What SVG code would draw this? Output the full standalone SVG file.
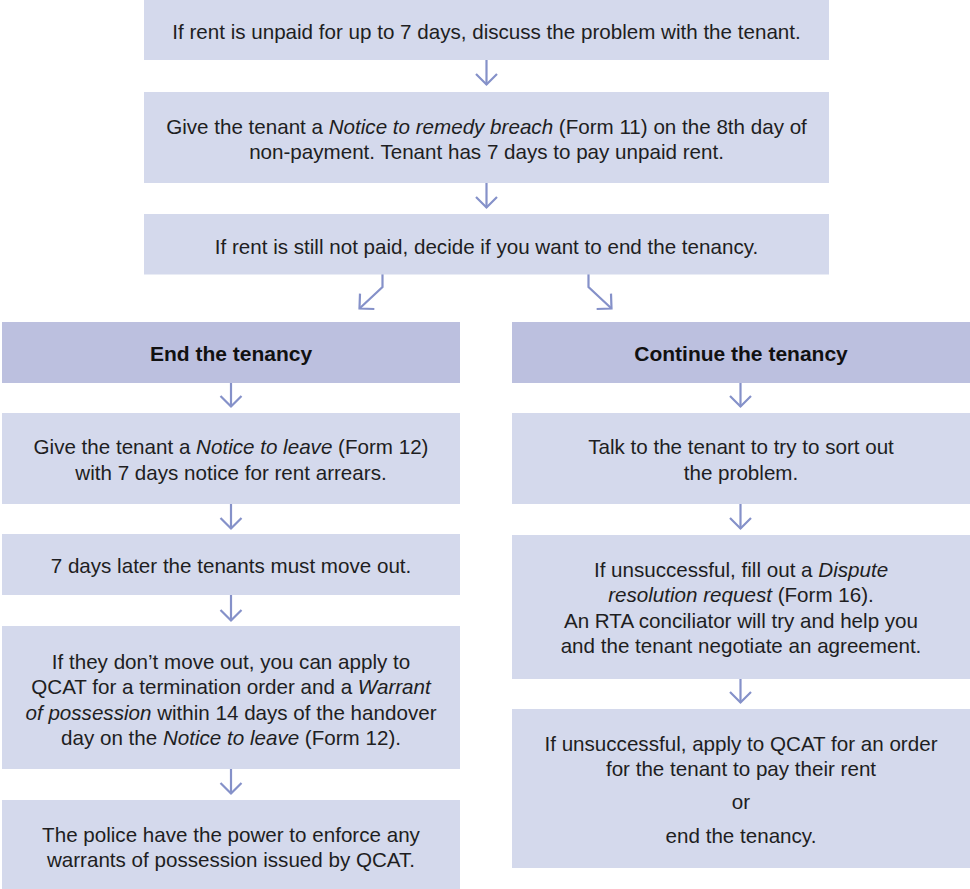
<svg xmlns="http://www.w3.org/2000/svg" width="970" height="889" viewBox="0 0 970 889">
  <defs>
    <style>
      .box { fill: #d4d9ec; }
      .head { fill: #bcc0df; }
      .t { font-family: "Liberation Sans", Arial, Helvetica, sans-serif; font-size: 20.6px; fill: #1e1e22; text-anchor: middle; }
      .b { font-family: "Liberation Sans", Arial, Helvetica, sans-serif; font-size: 21px; font-weight: bold; fill: #111111; text-anchor: middle; }
      .i { font-style: italic; }
      .arrow { fill: none; stroke: #8591c9; stroke-width: 2.2; marker-end: url(#chev); }
    </style>
    <marker id="chev" markerUnits="userSpaceOnUse" viewBox="-14 -14 16 28" markerWidth="16" markerHeight="28" refX="0" refY="0" orient="auto">
      <path d="M-10.5,-10.5 L0,0 L-10.5,10.5" fill="none" stroke="#8591c9" stroke-width="2.2"/>
    </marker>
  </defs>
  <rect width="970" height="889" fill="#ffffff"/>

  <g id="connectors">
    <path class="arrow" d="M486.5,60 V84.5"/>
    <path class="arrow" d="M486.5,183 V207.5"/>
    <path class="arrow" d="M382.5,274 V287 L359.5,308.5"/>
    <path class="arrow" d="M588.5,274 V287 L611.5,308.5"/>
    <path class="arrow" d="M231,383 V406.5"/>
    <path class="arrow" d="M231,504 V528.5"/>
    <path class="arrow" d="M231,595 V620.5"/>
    <path class="arrow" d="M231,769 V793.5"/>
    <path class="arrow" d="M740.5,383 V406.5"/>
    <path class="arrow" d="M740.5,504 V528.5"/>
    <path class="arrow" d="M740.5,679 V702.5"/>
  </g>

  <g id="step1">
    <rect class="box" x="144" y="0" width="685" height="60"/>
    <text class="t" x="486.5" y="39">If rent is unpaid for up to 7 days, discuss the problem with the tenant.</text>
  </g>

  <g id="step2">
    <rect class="box" x="144" y="92" width="685" height="91"/>
    <text class="t" x="486.5" y="134">Give the tenant a <tspan class="i">Notice to remedy breach</tspan> (Form 11) on the 8th day of</text>
    <text class="t" x="486.5" y="158.5">non-payment. Tenant has 7 days to pay unpaid rent.</text>
  </g>

  <g id="step3">
    <rect class="box" x="144" y="214" width="685" height="60.5"/>
    <text class="t" x="486.5" y="254">If rent is still not paid, decide if you want to end the tenancy.</text>
  </g>

  <g id="end-header">
    <rect class="head" x="2" y="322" width="458" height="61"/>
    <text class="b" x="231" y="361">End the tenancy</text>
  </g>

  <g id="end-notice">
    <rect class="box" x="2" y="413" width="458" height="91"/>
    <text class="t" x="231" y="453.5">Give the tenant a <tspan class="i">Notice to leave</tspan> (Form 12)</text>
    <text class="t" x="231" y="480">with 7 days notice for rent arrears.</text>
  </g>

  <g id="end-moveout">
    <rect class="box" x="2" y="534" width="458" height="61"/>
    <text class="t" x="231" y="573">7 days later the tenants must move out.</text>
  </g>

  <g id="end-qcat">
    <rect class="box" x="2" y="626" width="458" height="143"/>
    <text class="t" x="231" y="669">If they don’t move out, you can apply to</text>
    <text class="t" x="231" y="694">QCAT for a termination order and a <tspan class="i">Warrant</tspan></text>
    <text class="t" x="231" y="719.5"><tspan class="i">of possession</tspan> within 14 days of the handover</text>
    <text class="t" x="231" y="744.5">day on the <tspan class="i">Notice to leave</tspan> (Form 12).</text>
  </g>

  <g id="end-police">
    <rect class="box" x="2" y="800" width="458" height="89"/>
    <text class="t" x="231" y="841.5">The police have the power to enforce any</text>
    <text class="t" x="231" y="866.5">warrants of possession issued by QCAT.</text>
  </g>

  <g id="continue-header">
    <rect class="head" x="512" y="322" width="458" height="61"/>
    <text class="b" x="741" y="361">Continue the tenancy</text>
  </g>

  <g id="continue-talk">
    <rect class="box" x="512" y="413" width="458" height="91"/>
    <text class="t" x="741" y="453.5">Talk to the tenant to try to sort out</text>
    <text class="t" x="741" y="480">the problem.</text>
  </g>

  <g id="continue-dispute">
    <rect class="box" x="512" y="535" width="458" height="144"/>
    <text class="t" x="741" y="577">If unsuccessful, fill out a <tspan class="i">Dispute</tspan></text>
    <text class="t" x="741" y="601.5"><tspan class="i">resolution request</tspan> (Form 16).</text>
    <text class="t" x="741" y="627.5">An RTA conciliator will try and help you</text>
    <text class="t" x="741" y="652.5">and the tenant negotiate an agreement.</text>
  </g>

  <g id="continue-qcat">
    <rect class="box" x="512" y="709" width="458" height="159"/>
    <text class="t" x="741" y="751">If unsuccessful, apply to QCAT for an order</text>
    <text class="t" x="741" y="776">for the tenant to pay their rent</text>
    <text class="t" x="741" y="809">or</text>
    <text class="t" x="741" y="842.5">end the tenancy.</text>
  </g>
</svg>
